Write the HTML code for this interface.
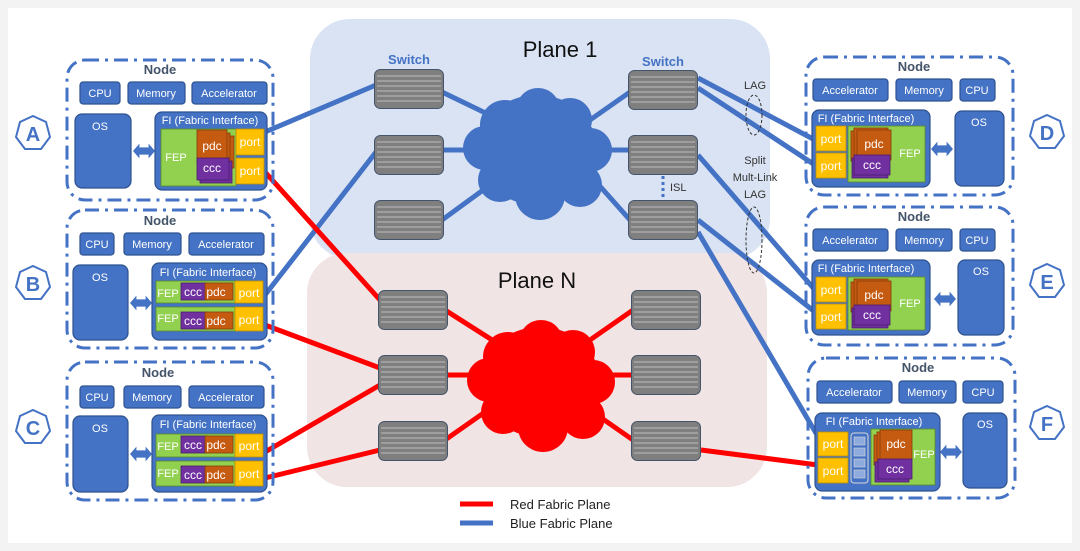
<!DOCTYPE html>
<html><head><meta charset="utf-8"><style>
html,body{margin:0;padding:0;background:#f3f3f3}
svg{display:block;font-family:"Liberation Sans",sans-serif}
.nb{fill:none;stroke:#4472c4;stroke-width:3;stroke-dasharray:14 6 3 6}
.bx{fill:#4472c4;stroke:#2f528f;stroke-width:1.2}
.wt{fill:#fff;font-size:11px;text-anchor:middle}
.nl{fill:#44546a;font-size:13px;font-weight:bold;text-anchor:middle}
.fep{fill:#92d050;stroke:#5a8a2a;stroke-width:.8}
.pdc{fill:#c55a11;stroke:#843c0c;stroke-width:.8}
.ccc{fill:#7030a0;stroke:#4b1f6f;stroke-width:.8}
.port{fill:#ffc000;stroke:#bf8f00;stroke-width:.8}
.pt{fill:#fff;font-size:12px;text-anchor:middle}
.bl{stroke:#4472c4;stroke-width:5;fill:none}
.rd{stroke:#ff0000;stroke-width:5;fill:none}
.hx{fill:#fff;stroke:#4472c4;stroke-width:2}
.hl{fill:#4472c4;font-size:20px;font-weight:bold;text-anchor:middle}
</style></head><body>
<svg width="1080" height="551" viewBox="0 0 1080 551" xmlns="http://www.w3.org/2000/svg">
<defs>
<symbol id="sw" viewBox="0 0 70 40">
<rect x="0.5" y="0.5" width="69" height="39" rx="6" fill="#7f7f7f" stroke="#44546a"/>
<g stroke="#b0b0b0" stroke-width="1.3"><line x1="3" y1="7" x2="67" y2="7"/><line x1="3" y1="12" x2="67" y2="12"/><line x1="3" y1="17" x2="67" y2="17"/><line x1="3" y1="22" x2="67" y2="22"/><line x1="3" y1="27" x2="67" y2="27"/><line x1="3" y1="32" x2="67" y2="32"/></g>
</symbol>
<symbol id="dar" viewBox="0 0 24 16"><polygon points="0,8 7,0 7,4 17,4 17,0 24,8 17,16 17,12 7,12 7,16" fill="#4472c4"/></symbol>
</defs>
<rect x="8" y="8" width="1064" height="535" fill="#fff"/>
<rect x="310" y="19" width="460" height="240" rx="40" fill="#dae3f3"/>
<rect x="307" y="253" width="460" height="234" rx="40" fill="#f1e4e4"/>
<text x="560" y="57" font-size="22" text-anchor="middle" fill="#111">Plane 1</text>
<text x="537" y="288" font-size="22" text-anchor="middle" fill="#111">Plane N</text>
<text x="409" y="64" fill="#4472c4" font-size="13" font-weight="bold" text-anchor="middle">Switch</text>
<text x="663" y="66" fill="#4472c4" font-size="13" font-weight="bold" text-anchor="middle">Switch</text>

<path class="bl" d="M265 132L376 85M265 295L376 152M442 92L500 120M442 150L480 150M442 220L490 185M590 120L630 92M600 150L630 150M590 175L630 220M698 78L815 140M698 88L815 165M698 155L815 290M698 220L815 312M698 232L820 440"/>
<path class="rd" d="M265 172L380 300M265 325L380 368M265 452L380 385M265 478L380 450M445 310L500 345M445 375L480 375M445 440L495 405M590 340L633 310M600 375L633 375M590 410L633 440M701 450L818 465"/>

<g fill="#4472c4">
<ellipse cx="537" cy="150" rx="60" ry="55"/><circle cx="505" cy="125" r="25"/><circle cx="538" cy="110" r="22"/><circle cx="570" cy="120" r="22"/><circle cx="590" cy="150" r="22"/><circle cx="580" cy="185" r="22"/><circle cx="540" cy="195" r="25"/><circle cx="500" cy="180" r="22"/><circle cx="485" cy="148" r="22"/>
</g>
<g fill="#ff0000">
<ellipse cx="540" cy="382" rx="60" ry="55"/><circle cx="508" cy="357" r="25"/><circle cx="541" cy="342" r="22"/><circle cx="573" cy="352" r="22"/><circle cx="593" cy="382" r="22"/><circle cx="583" cy="417" r="22"/><circle cx="543" cy="427" r="25"/><circle cx="503" cy="412" r="22"/><circle cx="489" cy="380" r="22"/>
</g>

<use href="#sw" x="374" y="69" width="70" height="40"/>
<use href="#sw" x="374" y="135" width="70" height="40"/>
<use href="#sw" x="374" y="200" width="70" height="40"/>
<use href="#sw" x="628" y="70" width="70" height="40"/>
<use href="#sw" x="628" y="135" width="70" height="40"/>
<use href="#sw" x="628" y="200" width="70" height="40"/>
<use href="#sw" x="378" y="290" width="70" height="40"/>
<use href="#sw" x="378" y="355" width="70" height="40"/>
<use href="#sw" x="378" y="421" width="70" height="40"/>
<use href="#sw" x="631" y="290" width="70" height="40"/>
<use href="#sw" x="631" y="355" width="70" height="40"/>
<use href="#sw" x="631" y="421" width="70" height="40"/>

<line x1="663" y1="176" x2="663" y2="199" stroke="#4472c4" stroke-width="3" stroke-dasharray="3 3"/>
<text x="670" y="191" font-size="11" fill="#333">ISL</text>
<text x="755" y="89" font-size="11" fill="#333" text-anchor="middle">LAG</text>
<ellipse cx="754" cy="115" rx="8" ry="20" fill="none" stroke="#333" stroke-dasharray="3 2"/>
<text x="755" y="164" font-size="11" fill="#333" text-anchor="middle">Split</text>
<text x="755" y="181" font-size="11" fill="#333" text-anchor="middle">Mult-Link</text>
<text x="755" y="198" font-size="11" fill="#333" text-anchor="middle">LAG</text>
<ellipse cx="754" cy="240" rx="8" ry="33" fill="none" stroke="#333" stroke-dasharray="3 2"/>

<line x1="460" y1="504" x2="493" y2="504" stroke="#ff0000" stroke-width="5"/>
<line x1="460" y1="523" x2="493" y2="523" stroke="#4472c4" stroke-width="5"/>
<text x="510" y="509" font-size="13" fill="#222">Red Fabric Plane</text>
<text x="510" y="528" font-size="13" fill="#222">Blue Fabric Plane</text>

<g>
<polygon class="hx" points="33,116 46,122 50,137 41,149 25,149 16,137 20,122"/><text class="hl" x="33" y="141">A</text>
<polygon class="hx" points="33,266 46,272 50,287 41,299 25,299 16,287 20,272"/><text class="hl" x="33" y="291">B</text>
<polygon class="hx" points="33,410 46,416 50,431 41,443 25,443 16,431 20,416"/><text class="hl" x="33" y="435">C</text>
<polygon class="hx" points="1047,115 1060,121 1064,136 1055,148 1039,148 1030,136 1034,121"/><text class="hl" x="1047" y="140">D</text>
<polygon class="hx" points="1047,264 1060,270 1064,285 1055,297 1039,297 1030,285 1034,270"/><text class="hl" x="1047" y="289">E</text>
<polygon class="hx" points="1047,406 1060,412 1064,427 1055,439 1039,439 1030,427 1034,412"/><text class="hl" x="1047" y="431">F</text>
</g>

<!-- Node A -->
<rect class="nb" x="67" y="60" width="206" height="140" rx="18"/>
<text class="nl" x="160" y="74">Node</text>
<rect class="bx" x="80" y="82" width="40" height="22" rx="3"/><text class="wt" x="100" y="97">CPU</text>
<rect class="bx" x="128" y="82" width="57" height="22" rx="3"/><text class="wt" x="156" y="97">Memory</text>
<rect class="bx" x="192" y="82" width="75" height="22" rx="3"/><text class="wt" x="229" y="97">Accelerator</text>
<rect class="bx" x="75" y="114" width="56" height="74" rx="7"/><text class="wt" x="100" y="130">OS</text>
<use href="#dar" x="133" y="143" width="22" height="16"/>
<rect class="bx" x="155" y="112" width="112" height="78" rx="7"/><text class="wt" x="210" y="124" font-size="10">FI (Fabric Interface)</text>
<rect class="fep" x="161" y="129" width="75" height="57"/><text class="wt" x="176" y="161">FEP</text>
<rect class="pdc" x="204" y="136" width="30" height="32"/><rect class="pdc" x="200" y="133" width="30" height="32"/><rect class="pdc" x="197" y="130" width="30" height="32"/><text class="pt" x="212" y="150">pdc</text>
<rect class="ccc" x="200" y="161" width="32" height="22"/><rect class="ccc" x="197" y="158" width="32" height="22"/><text class="pt" x="212" y="172">ccc</text>
<rect class="port" x="236" y="129" width="28" height="26"/><text class="pt" x="250" y="146">port</text>
<rect class="port" x="236" y="158" width="28" height="26"/><text class="pt" x="250" y="175">port</text>

<!-- Node B -->
<rect class="nb" x="67" y="210" width="206" height="138" rx="18"/>
<text class="nl" x="160" y="225">Node</text>
<rect class="bx" x="80" y="233" width="34" height="22" rx="3"/><text class="wt" x="97" y="248">CPU</text>
<rect class="bx" x="124" y="233" width="57" height="22" rx="3"/><text class="wt" x="152" y="248">Memory</text>
<rect class="bx" x="189" y="233" width="75" height="22" rx="3"/><text class="wt" x="226" y="248">Accelerator</text>
<rect class="bx" x="73" y="265" width="55" height="75" rx="7"/><text class="wt" x="100" y="281">OS</text>
<use href="#dar" x="130" y="295" width="22" height="16"/>
<rect class="bx" x="152" y="263" width="115" height="77" rx="7"/><text class="wt" x="208" y="276" font-size="10">FI (Fabric Interface)</text>
<rect class="fep" x="156" y="281" width="79" height="22"/><text class="wt" x="168" y="297">FEP</text>
<rect class="ccc" x="181" y="283" width="26" height="17"/><text class="pt" x="193" y="296">ccc</text>
<rect class="pdc" x="205" y="283" width="28" height="17"/><text class="pt" x="216" y="296">pdc</text>
<rect class="port" x="235" y="281" width="28" height="22"/><text class="pt" x="249" y="297">port</text>
<rect class="fep" x="156" y="307" width="79" height="24"/><text class="wt" x="168" y="322">FEP</text>
<rect class="ccc" x="181" y="312" width="26" height="17"/><text class="pt" x="193" y="325">ccc</text>
<rect class="pdc" x="205" y="312" width="28" height="17"/><text class="pt" x="216" y="325">pdc</text>
<rect class="port" x="235" y="307" width="28" height="24"/><text class="pt" x="249" y="324">port</text>

<!-- Node C -->
<rect class="nb" x="67" y="362" width="206" height="138" rx="18"/>
<text class="nl" x="158" y="377">Node</text>
<rect class="bx" x="80" y="386" width="34" height="22" rx="3"/><text class="wt" x="97" y="401">CPU</text>
<rect class="bx" x="124" y="386" width="57" height="22" rx="3"/><text class="wt" x="152" y="401">Memory</text>
<rect class="bx" x="189" y="386" width="75" height="22" rx="3"/><text class="wt" x="226" y="401">Accelerator</text>
<rect class="bx" x="73" y="416" width="55" height="76" rx="7"/><text class="wt" x="100" y="432">OS</text>
<use href="#dar" x="130" y="446" width="22" height="16"/>
<rect class="bx" x="152" y="415" width="115" height="77" rx="7"/><text class="wt" x="208" y="428" font-size="10">FI (Fabric Interface)</text>
<rect class="fep" x="156" y="434" width="79" height="23"/><text class="wt" x="168" y="450">FEP</text>
<rect class="ccc" x="181" y="436" width="26" height="17"/><text class="pt" x="193" y="449">ccc</text>
<rect class="pdc" x="205" y="436" width="28" height="17"/><text class="pt" x="216" y="449">pdc</text>
<rect class="port" x="235" y="434" width="28" height="23"/><text class="pt" x="249" y="450">port</text>
<rect class="fep" x="156" y="461" width="79" height="25"/><text class="wt" x="168" y="477">FEP</text>
<rect class="ccc" x="181" y="466" width="26" height="17"/><text class="pt" x="193" y="479">ccc</text>
<rect class="pdc" x="205" y="466" width="28" height="17"/><text class="pt" x="216" y="479">pdc</text>
<rect class="port" x="235" y="461" width="28" height="25"/><text class="pt" x="249" y="478">port</text>

<!-- Node D -->
<rect class="nb" x="806" y="57" width="207" height="138" rx="18"/>
<text class="nl" x="914" y="71">Node</text>
<rect class="bx" x="813" y="79" width="75" height="22" rx="3"/><text class="wt" x="850" y="94">Accelerator</text>
<rect class="bx" x="896" y="79" width="56" height="22" rx="3"/><text class="wt" x="924" y="94">Memory</text>
<rect class="bx" x="960" y="79" width="35" height="22" rx="3"/><text class="wt" x="977" y="94">CPU</text>
<rect class="bx" x="955" y="111" width="49" height="75" rx="7"/><text class="wt" x="979" y="126">OS</text>
<use href="#dar" x="931" y="141" width="22" height="16"/>
<rect class="bx" x="812" y="110" width="118" height="77" rx="7"/><text class="wt" x="866" y="122" font-size="10">FI (Fabric Interface)</text>
<rect class="port" x="816" y="126" width="30" height="25"/><text class="pt" x="831" y="143">port</text>
<rect class="port" x="816" y="153" width="30" height="25"/><text class="pt" x="831" y="170">port</text>
<rect class="fep" x="848" y="126" width="77" height="56"/><text class="wt" x="910" y="157">FEP</text>
<rect class="pdc" x="851" y="131" width="34" height="30"/><rect class="pdc" x="854" y="128" width="34" height="30"/><rect class="pdc" x="857" y="130" width="34" height="30"/><text class="pt" x="874" y="148">pdc</text>
<rect class="ccc" x="852" y="158" width="36" height="20"/><rect class="ccc" x="854" y="155" width="36" height="20"/><text class="pt" x="872" y="169">ccc</text>

<!-- Node E -->
<rect class="nb" x="806" y="207" width="207" height="138" rx="18"/>
<text class="nl" x="914" y="221">Node</text>
<rect class="bx" x="813" y="229" width="75" height="22" rx="3"/><text class="wt" x="850" y="244">Accelerator</text>
<rect class="bx" x="896" y="229" width="56" height="22" rx="3"/><text class="wt" x="924" y="244">Memory</text>
<rect class="bx" x="960" y="229" width="35" height="22" rx="3"/><text class="wt" x="977" y="244">CPU</text>
<rect class="bx" x="958" y="260" width="46" height="75" rx="7"/><text class="wt" x="981" y="275">OS</text>
<use href="#dar" x="934" y="291" width="22" height="16"/>
<rect class="bx" x="812" y="260" width="118" height="75" rx="7"/><text class="wt" x="866" y="272" font-size="10">FI (Fabric Interface)</text>
<rect class="port" x="816" y="277" width="30" height="25"/><text class="pt" x="831" y="294">port</text>
<rect class="port" x="816" y="304" width="30" height="25"/><text class="pt" x="831" y="321">port</text>
<rect class="fep" x="848" y="277" width="77" height="53"/><text class="wt" x="910" y="307">FEP</text>
<rect class="pdc" x="851" y="282" width="34" height="30"/><rect class="pdc" x="854" y="279" width="34" height="30"/><rect class="pdc" x="857" y="281" width="34" height="30"/><text class="pt" x="874" y="299">pdc</text>
<rect class="ccc" x="852" y="308" width="36" height="20"/><rect class="ccc" x="854" y="305" width="36" height="20"/><text class="pt" x="872" y="319">ccc</text>

<!-- Node F -->
<rect class="nb" x="808" y="358" width="207" height="140" rx="18"/>
<text class="nl" x="918" y="372">Node</text>
<rect class="bx" x="817" y="381" width="75" height="22" rx="3"/><text class="wt" x="854" y="396">Accelerator</text>
<rect class="bx" x="899" y="381" width="57" height="22" rx="3"/><text class="wt" x="927" y="396">Memory</text>
<rect class="bx" x="963" y="381" width="40" height="22" rx="3"/><text class="wt" x="983" y="396">CPU</text>
<rect class="bx" x="963" y="413" width="44" height="75" rx="7"/><text class="wt" x="985" y="428">OS</text>
<use href="#dar" x="940" y="444" width="22" height="16"/>
<rect class="bx" x="815" y="413" width="125" height="78" rx="7"/><text class="wt" x="874" y="425" font-size="10">FI (Fabric Interface)</text>
<rect class="port" x="818" y="432" width="30" height="24"/><text class="pt" x="833" y="448">port</text>
<rect class="port" x="818" y="458" width="30" height="25"/><text class="pt" x="833" y="475">port</text>
<rect x="851" y="433" width="17" height="50" rx="3" fill="#4472c4" stroke="#d9d9d9"/>
<g fill="#8faadc" stroke="#d9d9d9" stroke-width=".6"><rect x="854" y="437" width="11" height="8"/><rect x="854" y="448" width="11" height="8"/><rect x="854" y="459" width="11" height="8"/><rect x="854" y="470" width="11" height="8"/></g>
<rect class="fep" x="871" y="429" width="64" height="56"/><text class="wt" x="924" y="458">FEP</text>
<rect class="pdc" x="874" y="435" width="32" height="30"/><rect class="pdc" x="877" y="432" width="32" height="30"/><rect class="pdc" x="880" y="430" width="32" height="30"/><text class="pt" x="896" y="448">pdc</text>
<rect class="ccc" x="875" y="462" width="34" height="20"/><rect class="ccc" x="878" y="459" width="34" height="20"/><text class="pt" x="895" y="473">ccc</text>
</svg>
</body></html>
